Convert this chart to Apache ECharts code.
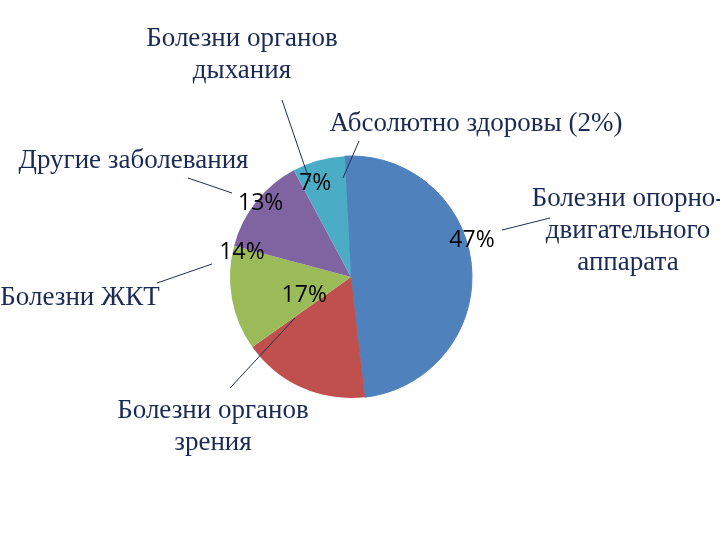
<!DOCTYPE html>
<html>
<head>
<meta charset="utf-8">
<script src="https://cdn.jsdelivr.net/npm/echarts@6/dist/echarts.min.js"></script>
<style>
  html, body { margin: 0; padding: 0; background: #fff; }
  #chart { width: 720px; height: 540px; }
</style>
</head>
<body>
<div id="chart"></div>
<script>
// ---- data ----
var categories = ['Абсолютно здоровы', 'Болезни опорно-двигательного аппарата', 'Болезни органов зрения', 'Болезни ЖКТ', 'Другие заболевания', 'Болезни органов дыхания'];
var values = [2, 47, 17, 14, 13, 7];
var nameLabels = ['Абсолютно здоровы (2%)', 'Болезни опорно-\nдвигательного\nаппарата', 'Болезни органов\nзрения', 'Болезни ЖКТ', 'Другие заболевания', 'Болезни органов\nдыхания'];
var showPercent = [false, true, true, true, true, true];

// ---- styles / layout ----
var colors = ['#4F81BD', '#4F81BD', '#C0504D', '#9BBB59', '#8064A2', '#4BACC6'];
var percentOffsets = [[0, 0], [57.5, -35.2], [-20.9, -39.8], [-46.5, -36.2], [-40.6, -34.4], [-18.7, -32.2]];
var nameLayout = [
  { x: 476, y: 124, line: [[359, 141], [343, 178]] },
  { x: 628, y: 231, line: [[550, 218], [502, 230]] },
  { x: 213, y: 427, line: [[230, 388], [295, 318]] },
  { x: 80, y: 298, line: [[157, 283], [212, 264]] },
  { x: 133.5, y: 161, line: [[188, 178], [232, 193]] },
  { x: 242, y: 55, line: [[282, 100], [310, 182]] }
];
var textColor = '#1B2A55';

var chart = echarts.init(document.getElementById('chart'), null, { renderer: 'canvas' });

var sliceData = categories.map(function (c, i) {
  return {
    name: c,
    value: values[i],
    itemStyle: { color: colors[i], borderColor: colors[i], borderWidth: i < 2 ? 1 : 0 },
    label: { show: showPercent[i], offset: percentOffsets[i] }
  };
});
var nameData = categories.map(function (c, i) {
  return { name: c, value: values[i] };
});

chart.setOption({
  animation: false,
  backgroundColor: '#ffffff',
  series: [
    {
      type: 'pie',
      z: 2,
      center: [351, 277],
      radius: 121,
      startAngle: 93,
      clockwise: true,
      avoidLabelOverlap: false,
      silent: true,
      label: {
        position: 'inside',
        formatter: '{c}%',
        color: '#000',
        fontFamily: 'Open Sans',
        fontSize: 23
      },
      labelLine: { show: false },
      data: sliceData
    },
    {
      type: 'pie',
      z: 5,
      center: [351, 277],
      radius: 121,
      startAngle: 93,
      clockwise: true,
      avoidLabelOverlap: false,
      silent: true,
      itemStyle: { color: 'rgba(0,0,0,0)', borderWidth: 0 },
      label: {
        show: true,
        position: 'outside',
        formatter: function (p) { return nameLabels[p.dataIndex]; },
        color: textColor,
        fontFamily: 'Liberation Serif',
        fontSize: 27,
        lineHeight: 32,
        align: 'center'
      },
      labelLine: { show: true, lineStyle: { color: '#1F2F55', width: 1 } },
      labelLayout: function (p) {
        var L = nameLayout[p.dataIndex];
        return {
          x: L.x,
          y: L.y,
          align: 'center',
          verticalAlign: 'middle',
          labelLinePoints: [L.line[0], L.line[0], L.line[1]]
        };
      },
      data: nameData
    }
  ]
});
</script>
</body>
</html>
